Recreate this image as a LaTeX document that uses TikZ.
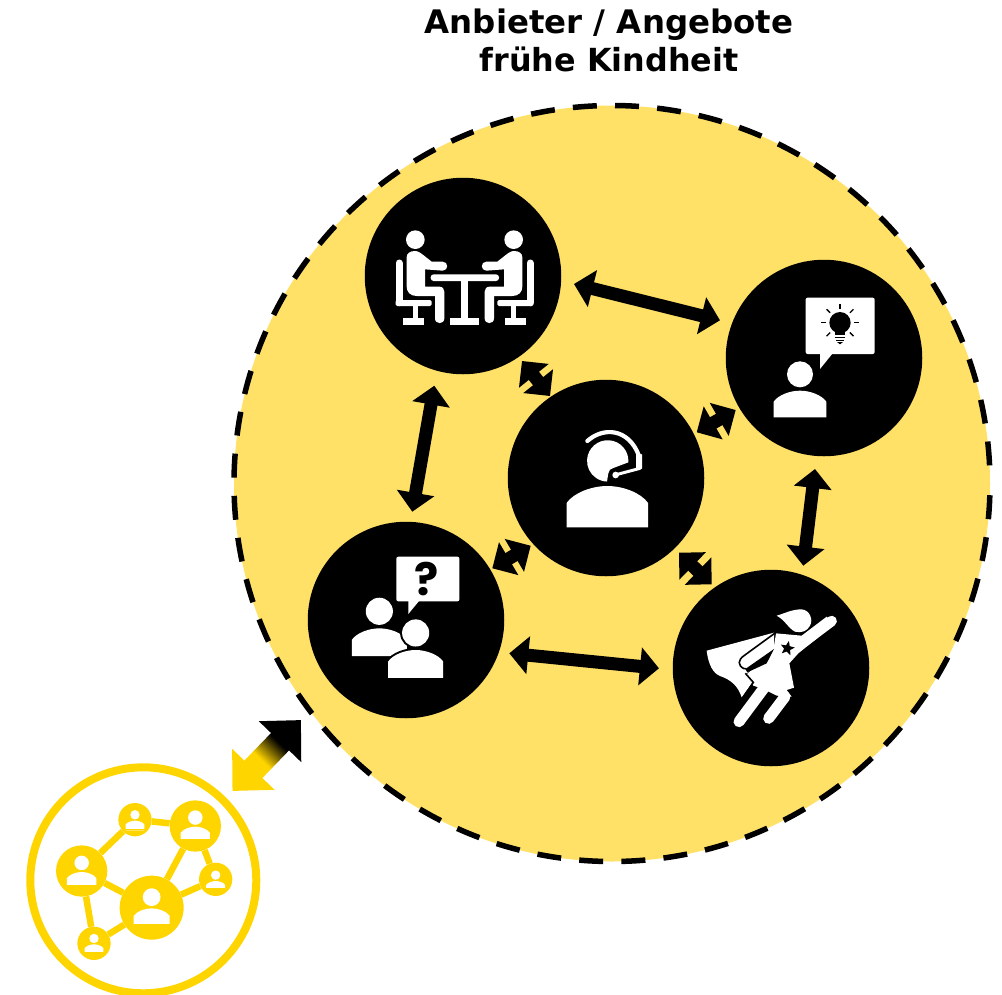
\documentclass[tikz,border=0pt]{standalone}
\usepackage{fontspec}
\setmainfont{DejaVu Sans}
\newfontfamily\qfont{Poppins}
\usetikzlibrary{arrows.meta,calc,shapes.geometric}
\definecolor{zonec}{HTML}{FFE167}
\definecolor{goldc}{HTML}{FFD500}
\pgfdeclarehorizontalshading{linkshade}{100bp}{color(0bp)=(goldc); color(46.5bp)=(goldc); color(59bp)=(black); color(100bp)=(black)}
\tikzset{
  disc/.style={circle,fill=black,minimum size=196.5pt,inner sep=0pt},
  biarrow/.style={{Triangle[length=19pt,width=37pt]}-{Triangle[length=19pt,width=37pt]},line width=13pt,black},
  netnode/.style={circle,fill=goldc,inner sep=0pt},
  netedge/.style={goldc,line width=6.5pt},
  iconfill/.style={fill=white},
}
% person: head and shoulders, in a 158-wide frame, (x,y) is top of shoulders
\newcommand\bustbody[4][iconfill]{\path[#1,shift={(#2,#3)},scale=#4] (-79,80) -- (-79,33) .. controls (-65,13) and (-30,0) .. (0,0) .. controls (30,0) and (65,13) .. (79,33) -- (79,80) -- cycle;}
\newcommand\bust[4][iconfill]{\path[#1,shift={(#2,#3)},scale=#4] (-79,80) -- (-79,33) .. controls (-65,13) and (-30,0) .. (0,0) .. controls (30,0) and (65,13) .. (79,33) -- (79,80) -- cycle (0,-49) circle[radius=39];}
\newcommand\meethalf{%
  \fill[white] (140,262) .. controls (140,250) and (150,243) .. (165,243) .. controls (175,243) and (180,247) .. (215,275) -- (248,275) .. controls (266,275) and (266,302) .. (248,302) -- (195,298) -- (195,350) -- (238,350) .. controls (248,350) and (253,357) .. (253,365) -- (253,445) .. controls (253,464) and (225,464) .. (225,445) -- (225,378) -- (170,378) .. controls (150,378) and (140,365) .. (140,350) -- cycle;
  \fill[white] (166,209) circle[radius=28];
  \draw[white,line width=7pt,line cap=round] (117,279) -- (117,398);
  \fill[white,rounded corners=1.5pt] (107,390) rectangle (215,408);
  \fill[white] (160,405) rectangle (175,447);
  \fill[white] (128,445) rectangle (193,465);
}
\begin{document}
\begin{tikzpicture}[x=1pt,y=-1pt]
\clip (0,0) rectangle (1002,994);
\fill[white] (0,0) rectangle (1002,994);

\node[font=\bfseries\fontsize{32.4}{38}\selectfont,align=center,inner sep=0pt] (title) at (609,40) {Anbieter / Angebote\\\fontsize{31.8}{38}\selectfont frühe Kindheit};

\node[circle,fill=zonec,draw=black,line width=5.5pt,dash pattern=on 24pt off 18.21pt,dash phase=24.1pt,minimum size=756pt,inner sep=0pt] (zone) at (612,483.5) {};

\node[disc] (meet) at (463,276) {};
\node[disc] (idea) at (824,358) {};
\node[disc] (hub) at (606,478) {};
\node[disc] (ask) at (406,620) {};
\node[disc] (hero) at (771,668) {};

% arrows
\draw[biarrow] ($(meet)+(111,8)$) -- ($(idea)+(-104,-37.7)$);
\draw[biarrow] ($(meet)+(59,85)$) -- ($(hub)+(-56,-82)$);
\draw[biarrow] ($(meet)+(-28.7,109.7)$) -- ($(ask)+(6.3,-108.3)$);
\draw[biarrow] ($(idea)+(-9,111)$) -- ($(hero)+(32.3,-102.3)$);
\draw[biarrow] ($(ask)+(103.3,33.3)$) -- ($(hero)+(-112,0.3)$);
\draw[biarrow] ($(hub)+(90.7,-45.7)$) -- ($(idea)+(-88.3,52)$);
\draw[biarrow] ($(hub)+(-75.3,67.7)$) -- ($(ask)+(86.3,-51.7)$);
\draw[biarrow] ($(hub)+(73,74.7)$) -- ($(hero)+(-59.3,-83.7)$);

% meeting icon
\begin{scope}[shift={(360,170)},scale=1/3]
  \meethalf
  \begin{scope}[shift={(627,0)},xscale=-1]\meethalf\end{scope}
  \fill[white,rounded corners=3pt] (212,313) rectangle (417,333);
  \fill[white] (304,330) rectangle (325,447);
  \fill[white] (270,443) rectangle (357,465);
\end{scope}

% idea icon
\begin{scope}[shift={(720,255)},scale=1/3]
  \fill[white,rounded corners=2pt] (257,128) rectangle (464,297);
  \fill[white] (300,290) -- (300,342) -- (342,290) -- cycle;
  \bust{240}{407}{1}
  \fill[black] (360,203) circle[radius=32];
  \fill[black] (345,225) rectangle (375,241);
  \fill[black] (345,245) rectangle (376,250);
  \fill[black] (347,254) rectangle (373,258);
  \fill[black] (351,261) -- (369,261) -- (360,268) -- cycle;
  \foreach \a in {0,180,-90,-45,-135,45,135}
    \draw[black,line width=1.3pt,shift={(360,203)}] (\a:42) -- (\a:57);
\end{scope}

% headset icon
\begin{scope}[shift={(500,375)},scale=1/3]
  \bustbody{322}{333}{1.55}
  \fill[white] (385,262) arc[start angle=4,end angle=-268,radius=62] -- (325,295) .. controls (325,285) and (332,282) .. (340,279) -- cycle;
  \draw[white,line width=4.2pt,line cap=round] (262,198) .. controls (310,155) and (385,160) .. (416,240);
  \fill[white] (408,235) -- (426,238) -- (426,281) -- (408,286) -- cycle;
  \draw[white,line width=3pt,line cap=round] (420,280) -- (345,300);
  \fill[white] (347,300) circle[radius=10];
\end{scope}

% question icon
\begin{scope}[shift={(300,515)},scale=1/3]
  \bust{238}{340}{1.044}
  \bust[draw=black,fill=black,line width=4pt]{347}{405}{1.044}
  \bust{347}{405}{1.044}
  \fill[white,rounded corners=2pt] (289,125) rectangle (478,259);
  \fill[white] (325,252) -- (325,297) -- (362,252) -- cycle;
  \node[text=black,font=\qfont\bfseries\fontsize{45}{45}\selectfont,inner sep=0pt] (qmark) at (381,193) {?};
\end{scope}

% hero icon
\begin{scope}[shift={(670,565)},scale=1/3]
  \fill[white] (320,152) .. controls (345,145) and (365,133) .. (395,133) .. controls (420,135) and (430,165) .. (420,182) .. controls (412,198) and (395,205) .. (375,200) .. controls (355,190) and (345,165) .. (320,152) -- cycle;
  \fill[white] (312,203) -- (110,257) .. controls (115,300) and (130,325) .. (150,333) .. controls (185,345) and (205,365) .. (215,397) -- (245,355) -- (228,327) -- (312,255) -- cycle;
  \fill[white] (318,205) -- (395,212) -- (470,155) -- (490,180) -- (385,265) -- (358,295) -- (372,368) -- (350,375) -- (365,395) -- (320,392) -- (280,372) -- (250,362) -- (228,330) -- (310,255) -- cycle;
  \draw[white,line width=10.5pt,line cap=round] (485,168) -- (400,232);
  \draw[white,line width=11pt,line cap=round] (285,365) -- (207,470);
  \draw[white,line width=11pt,line cap=round] (345,395) -- (296,460);
  \draw[black,line width=1.6pt] (318,202) -- (222,272) .. controls (203,285) and (203,302) .. (222,311) -- (228,311);
  \fill[black] (312,252) -- (290,295) -- (232,322) -- (226,312) -- cycle;
  \draw[black,line width=1.6pt] (226,325) -- (250,352) -- (216,402);
  \node[star,star points=5,star point ratio=2.3,fill=black,minimum size=15pt,inner sep=0pt,rotate=-12] (badge) at (352,250) {};
\end{scope}

% network icon
\node[circle,draw=goldc,line width=8pt,minimum size=226pt,inner sep=0pt] (net) at (143.3,880.3) {};
\begin{scope}[shift={(20,710)},scale=1/3]
  \node[netnode,minimum size=51.3pt] (n1) at (185,483) {};
  \node[netnode,minimum size=33.3pt] (n2) at (345,329) {};
  \node[netnode,minimum size=51.3pt] (n3) at (526,348) {};
  \node[netnode,minimum size=33.3pt] (n4) at (587,508) {};
  \node[netnode,minimum size=64pt] (n5) at (395,593) {};
  \node[netnode,minimum size=33.3pt] (n6) at (222,700) {};
  \draw[netedge] (n1) -- (n2);
  \draw[netedge] (n2) -- (n3);
  \draw[netedge] (n3) -- (n5);
  \draw[netedge] (n3) -- (n4);
  \draw[netedge] (n4) -- (n5);
  \draw[netedge] (n5) -- (n1);
  \draw[netedge] (n1) -- (n6);
  \draw[netedge] (n6) -- (n5);
  \bust{185}{486}{.557}
  \bust{526}{350}{.557}
  \bust{395}{595}{.684}
  \bust{345}{332}{.36}
  \bust{587}{513}{.36}
  \bust{222}{703}{.36}
  \fill[goldc] (140,525) rectangle (232,533);
  \fill[goldc] (480,388) rectangle (572,395);
  \fill[goldc] (338,643) rectangle (450,650);
  \fill[goldc] (314,356) rectangle (375,361);
  \fill[goldc] (554,534) rectangle (616,542);
  \fill[goldc] (190,725) rectangle (252,732);
\end{scope}

% gradient arrow
\coordinate (linkmid) at (266.7,755.5);
\begin{scope}[transform canvas={rotate around={46:(linkmid)}}]
\begin{scope}[shift={(linkmid)}]
\shade[shading=linkshade] (-49.2,0) -- (-19.2,-29.5) -- (-19.2,-12.5) -- (19.2,-12.5) -- (19.2,-29.5) -- (49.2,0) -- (19.2,29.5) -- (19.2,12.5) -- (-19.2,12.5) -- (-19.2,29.5) -- cycle;
\end{scope}
\end{scope}
\end{tikzpicture}
\end{document}
